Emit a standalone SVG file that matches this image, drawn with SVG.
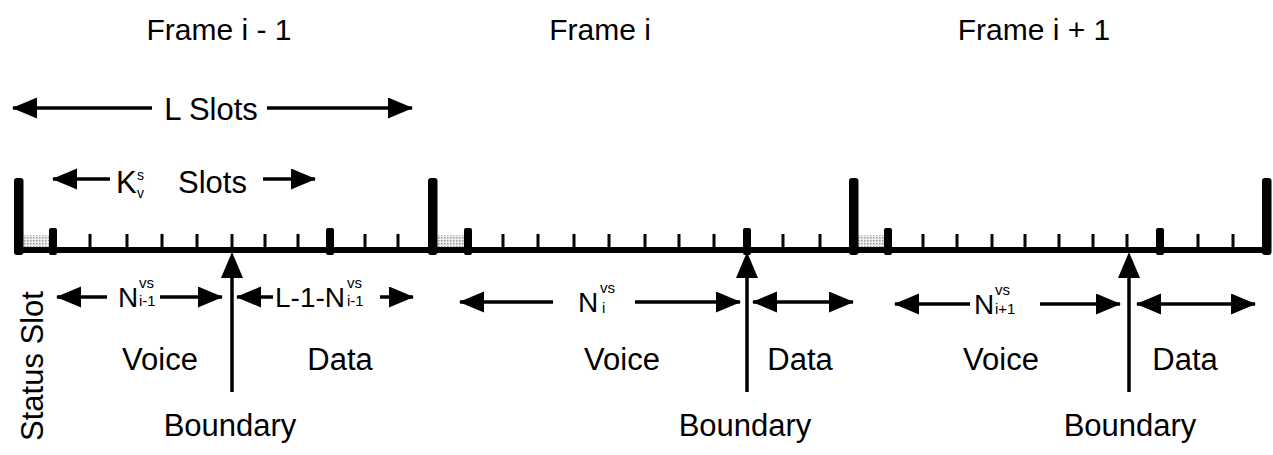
<svg xmlns="http://www.w3.org/2000/svg" width="1273" height="455" viewBox="0 0 1273 455">
<style>
text{font-family:"Liberation Sans",Arial,sans-serif;fill:#000}
.t{font-size:31px}
.h{font-size:30px}
.s{font-size:15px}
.k{font-size:14px}
.n{font-size:28px}
.ar{stroke:#000;stroke-width:3.5;fill:none}
.bar{fill:#000}
</style>
<defs>
<marker id="ah" markerUnits="userSpaceOnUse" markerWidth="27" markerHeight="22" refX="24" refY="10.5" orient="auto">
<path d="M0,0 L25,10.5 L0,21 Z" fill="#000"/>
</marker>
<pattern id="dots" width="3" height="3" patternUnits="userSpaceOnUse">
<rect width="3" height="3" fill="#eee"/>
<rect width="1.5" height="1.5" fill="#999"/>
</pattern>
</defs>
<rect width="1273" height="455" fill="#fff"/>

<g id="titles">
<text class="h" x="219" y="40" text-anchor="middle">Frame i - 1</text>
<text class="h" x="600" y="40" text-anchor="middle">Frame i</text>
<text class="h" x="1034" y="40" text-anchor="middle">Frame i + 1</text>
</g>

<g id="axis">
<rect x="20" y="235" width="30" height="12" fill="url(#dots)"/>
<rect x="436" y="235" width="28" height="12" fill="url(#dots)"/>
<rect x="857" y="235" width="28" height="12" fill="url(#dots)"/>
<rect x="15" y="247" width="1255" height="6" class="bar"/>
<g id="frame-bars">
<rect x="14" y="178" width="9.5" height="77" rx="3" class="bar"/>
<rect x="428" y="178" width="9.5" height="77" rx="3" class="bar"/>
<rect x="849" y="178" width="9.5" height="77" rx="3" class="bar"/>
<rect x="1262" y="178" width="9.5" height="77" rx="3" class="bar"/>
</g>
<g id="slot-markers">
<rect x="49" y="228" width="8" height="27" rx="2" class="bar"/>
<rect x="326" y="228" width="8" height="27" rx="2" class="bar"/>
<rect x="464" y="228" width="8" height="27" rx="2" class="bar"/>
<rect x="743" y="228" width="8" height="27" rx="2" class="bar"/>
<rect x="884" y="228" width="8" height="27" rx="2" class="bar"/>
<rect x="1156" y="228" width="8" height="27" rx="2" class="bar"/>
</g>
<g id="ticks" stroke="#000" stroke-width="3">
<path d="M90,234V250M127,234V250M162,234V250M197,234V250M232,234V250M265,234V250M298,234V250M365,234V250M398,234V250"/>
<path d="M503,234V250M538,234V250M574,234V250M609,234V250M645,234V250M679,234V250M714,234V250M783,234V250M820,234V250"/>
<path d="M923,234V250M957,234V250M992,234V250M1025,234V250M1059,234V250M1093,234V250M1127,234V250M1198,234V250M1233,234V250"/>
</g>
</g>

<g id="connectors">
<path class="ar" d="M152,108H13" marker-end="url(#ah)"/>
<path class="ar" d="M267,108H412" marker-end="url(#ah)"/>
<path class="ar" d="M110,179H53" marker-end="url(#ah)"/>
<path class="ar" d="M263,179H315" marker-end="url(#ah)"/>
<path class="ar" d="M107,297H57" marker-end="url(#ah)"/>
<path class="ar" d="M160,297H222" marker-end="url(#ah)"/>
<path class="ar" d="M273,297H237" marker-end="url(#ah)"/>
<path class="ar" d="M380,297H413" marker-end="url(#ah)"/>
<path class="ar" d="M553,302H460" marker-end="url(#ah)"/>
<path class="ar" d="M635,302H740" marker-end="url(#ah)"/>
<path class="ar" d="M800,302H753" marker-end="url(#ah)"/>
<path class="ar" d="M800,302H853" marker-end="url(#ah)"/>
<path class="ar" d="M970,304H895" marker-end="url(#ah)"/>
<path class="ar" d="M1040,304H1120" marker-end="url(#ah)"/>
<path class="ar" d="M1195,304H1137" marker-end="url(#ah)"/>
<path class="ar" d="M1195,304H1255" marker-end="url(#ah)"/>
<g id="boundary-arrows">
<path class="ar" d="M232,392V272"/>
<path d="M232,252L243,278H221Z" class="bar"/>
<path class="ar" d="M747,392V272"/>
<path d="M747,252L758,278H736Z" class="bar"/>
<path class="ar" d="M1129,392V272"/>
<path d="M1129,252L1140,278H1118Z" class="bar"/>
</g>
</g>

<g id="l-slots">
<text class="t" x="211" y="120" text-anchor="middle">L Slots</text>
</g>
<g id="k-slots">
<text class="t" x="116" y="193">K</text>
<text class="k" x="137" y="180">s</text>
<text class="k" x="137" y="198">v</text>
<text class="t" x="178" y="193">Slots</text>
</g>

<g id="frame1-labels">
<text class="n" x="118" y="307">N</text>
<text class="s" x="139" y="288">vs</text>
<text class="s" x="139" y="306">i-1</text>
<text class="n" x="275" y="307">L-1-N</text>
<text class="s" x="347" y="288">vs</text>
<text class="s" x="347" y="306">i-1</text>
<text class="t" x="160" y="370" text-anchor="middle">Voice</text>
<text class="t" x="340" y="370" text-anchor="middle">Data</text>
<text class="t" x="230" y="436" text-anchor="middle">Boundary</text>
</g>
<g id="status-slot">
<text class="t" transform="translate(43,366) rotate(-90)" text-anchor="middle">Status Slot</text>
</g>

<g id="frame2-labels">
<text class="n" x="578" y="312">N</text>
<text class="s" x="600" y="293">vs</text>
<text class="s" x="602" y="313">i</text>
<text class="t" x="622" y="370" text-anchor="middle">Voice</text>
<text class="t" x="800" y="370" text-anchor="middle">Data</text>
<text class="t" x="745" y="436" text-anchor="middle">Boundary</text>
</g>

<g id="frame3-labels">
<text class="n" x="974" y="314">N</text>
<text class="s" x="995" y="295">vs</text>
<text class="s" x="995" y="314">i+1</text>
<text class="t" x="1001" y="370" text-anchor="middle">Voice</text>
<text class="t" x="1185" y="370" text-anchor="middle">Data</text>
<text class="t" x="1130" y="436" text-anchor="middle">Boundary</text>
</g>
</svg>
